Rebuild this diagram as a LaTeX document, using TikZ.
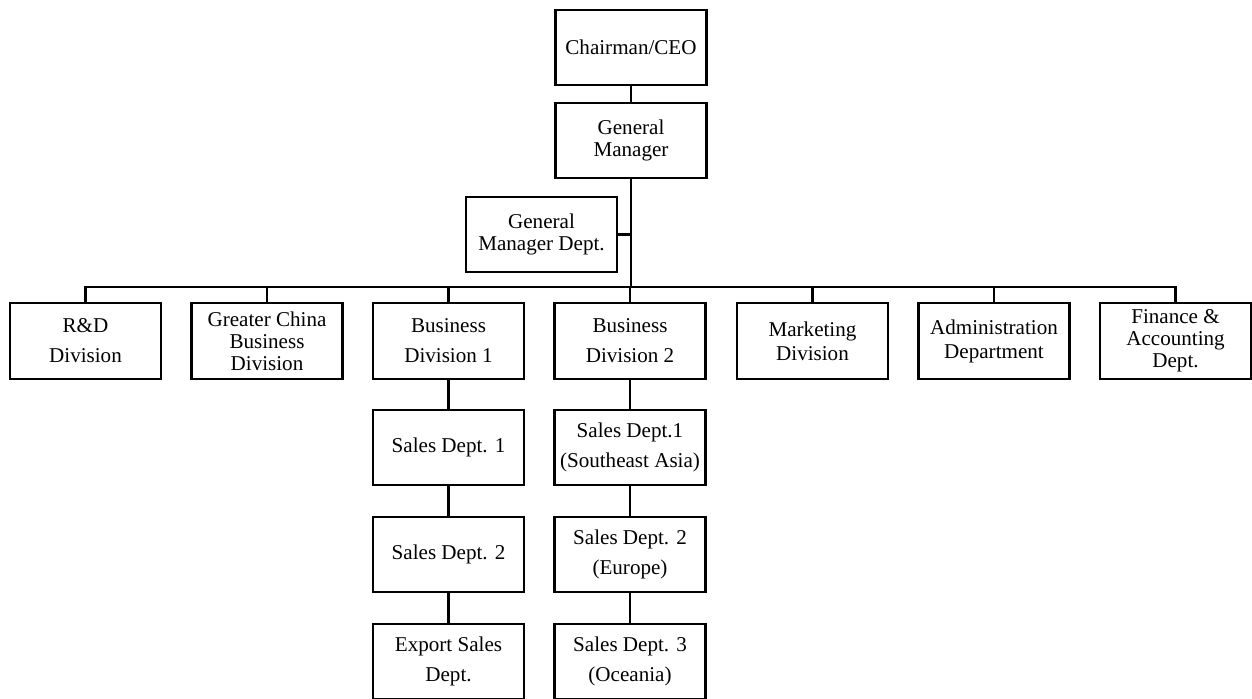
\documentclass[tikz,border=0pt]{standalone}
\usepackage{fontspec}
\setmainfont{Liberation Serif}
\usetikzlibrary{positioning}

\begin{document}
\begin{tikzpicture}[x=.02cm,y=-.02cm,line width=1.3pt] % pixel grid, y down
\tikzstyle{unit}=[draw,shape=rectangle,fill=white,align=center,inner sep=0pt,minimum width=3.02cm,minimum height=1.5cm,font=\fontsize{12}{12.5}\selectfont]
\tikzstyle{mid}=[unit,font=\fontsize{12}{13.6}\selectfont]
\tikzstyle{wide}=[unit,font=\fontsize{12}{17}\selectfont]

\clip (0,0) rectangle (1252,698); % page frame

% top of the chart
\draw (631,47.5) node[unit] (ceo) {Chairman/CEO}; % chairman
\draw (631,140.5) node[unit] (gm) {General\\Manager}; % general manager
\draw (541.5,234.5) node[unit,font=\fontsize{12}{13}\selectfont] (gmd) {General\\Manager Dept.}; % staff office
\coordinate (hub) at (631,287); % bus

% first level
\draw (85.5,341) node[wide,minimum height=1.52cm] (rd) {R\&D\\Division};
\draw (267,341) node[unit,minimum height=1.52cm] (gc) {Greater China\\Business\\Division};
\draw (448.5,341) node[wide,minimum height=1.52cm] (bd1) {Business\\Division 1};
\draw (630,341) node[wide,minimum height=1.52cm] (bd2) {Business\\Division 2};
\draw (812.5,341) node[mid,minimum height=1.52cm] (mkt) {Marketing\\Division};
\draw (994,341) node[mid,minimum height=1.52cm] (adm) {Administration\\Department};
\draw (1175.5,341) node[unit,minimum height=1.52cm] (fin) {Finance \&\\Accounting\\Dept.};

% sales departments, division 1
\draw (448.5,447.5) node[wide] (s11) {Sales Dept. 1};
\draw (448.5,554.5) node[wide] (s12) {Sales Dept. 2};
\draw (448.5,661.5) node[wide] (s13) {Export Sales\\Dept.};

% sales departments, division 2
\draw (630,447.5) node[wide] (s21) {Sales Dept.1\\(Southeast Asia)};
\draw (630,554.5) node[wide] (s22) {Sales Dept. 2\\(Europe)};
\draw (630,661.5) node[wide] (s23) {Sales Dept. 3\\(Oceania)};

% lines
\draw (ceo) -- (gm);
\draw (gm) -- (hub);
\draw (gmd.east) -- (gmd.east -| gm.south);
\foreach \u in {rd,gc,bd1,bd2,mkt,adm,fin}
  \draw (hub) -| (\u.north);
\draw (bd1) -- (s11) -- (s12) -- (s13);
\draw (bd2) -- (s21) -- (s22) -- (s23);
\end{tikzpicture}
\end{document}
